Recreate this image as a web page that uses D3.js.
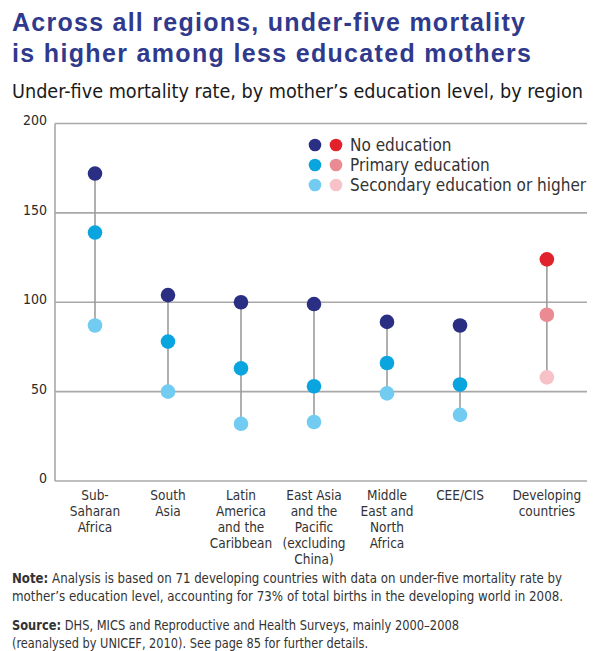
<!DOCTYPE html>
<html>
<head>
<meta charset="utf-8">
<script src="https://cdn.jsdelivr.net/npm/d3@7"></script>
<style>
  html, body { margin: 0; padding: 0; background: #fff; }
  svg { display: block; }
  .narrow { font-family: "Liberation Sans Narrow", "Arial Narrow", "DejaVu Sans Condensed", "Roboto Condensed", sans-serif; }
</style>
</head>
<body>
<svg id="chart" width="601" height="651"></svg>
<script>
// Under-five mortality rate (deaths per 1,000 live births) by mother's education level
const regions = [
  ["Sub-", "Saharan", "Africa"],
  ["South", "Asia"],
  ["Latin", "America", "and the", "Caribbean"],
  ["East Asia", "and the", "Pacific", "(excluding", "China)"],
  ["Middle", "East and", "North", "Africa"],
  ["CEE/CIS"]
];
const aggregate = ["Developing", "countries"];

const noEducation        = [172, 104, 100, 99, 89, 87];
const primaryEducation   = [139, 78, 63, 53, 66, 54];
const secondaryEducation = [87, 50, 32, 33, 49, 37];

const aggregateNoEducation = 124;
const aggregatePrimary = 93;
const aggregateSecondary = 58;

const yTicks = [0, 50, 100, 150, 200];
const legendLabels = ["No education", "Primary education", "Secondary education or higher"];

const blues = ["#2b2f84", "#0aa5de", "#72ccf1"];
const reds  = ["#e2222b", "#ea8a93", "#f6c2c7"];

const svg = d3.select("#chart");

// Headings
const title = svg.append("g")
  .attr("font-family", "'Liberation Sans', Arial, Helvetica, sans-serif")
  .attr("font-weight", "bold")
  .attr("font-size", 25)
  .attr("fill", "#303a8c");
title.append("text").attr("x", 12).attr("y", 31)
  .attr("textLength", 513).attr("lengthAdjust", "spacing")
  .text("Across all regions, under-five mortality");
title.append("text").attr("x", 12).attr("y", 62)
  .attr("textLength", 519).attr("lengthAdjust", "spacing")
  .text("is higher among less educated mothers");

svg.append("text").attr("class", "narrow")
  .attr("x", 12).attr("y", 98)
  .attr("font-size", 20).attr("fill", "#1a1a1a")
  .attr("textLength", 571).attr("lengthAdjust", "spacingAndGlyphs")
  .text("Under-five mortality rate, by mother\u2019s education level, by region");

// Scales
const plotLeft = 55, plotRight = 587;
const y = d3.scaleLinear().domain([0, 200]).range([481, 123.5]);
const x = d3.scalePoint()
  .domain(d3.range(regions.length))
  .range([95, 460]);
const aggregateX = x(regions.length - 1) + x.step() * 1.19;

// Grid and axis
const grid = svg.append("g");
grid.selectAll("line.grid")
  .data(yTicks)
  .join("line")
  .attr("class", "grid")
  .attr("x1", plotLeft).attr("x2", plotRight)
  .attr("y1", d => y(d)).attr("y2", d => y(d))
  .attr("stroke", "#a8a8a8").attr("stroke-width", 1.6);
grid.append("line")
  .attr("x1", plotLeft).attr("x2", plotLeft)
  .attr("y1", y(200)).attr("y2", y(0))
  .attr("stroke", "#a8a8a8").attr("stroke-width", 1.6);

const yAxis = d3.axisLeft(y).tickValues(yTicks).tickSize(0).tickPadding(8);
const yg = svg.append("g")
  .attr("transform", `translate(${plotLeft},0)`)
  .call(yAxis);
yg.select(".domain").remove();
yg.selectAll("text")
  .attr("class", "narrow")
  .attr("font-size", 14)
  .attr("fill", "#2a2a2a")
  .attr("dy", "0.1em");

// Region dumbbells
const rows = regions.map((r, i) => ({
  cx: x(i),
  vals: [noEducation[i], primaryEducation[i], secondaryEducation[i]],
  colors: blues
}));
rows.push({
  cx: aggregateX,
  vals: [aggregateNoEducation, aggregatePrimary, aggregateSecondary],
  colors: reds
});

const groups = svg.append("g").selectAll("g")
  .data(rows)
  .join("g");

groups.append("line")
  .attr("x1", d => d.cx).attr("x2", d => d.cx)
  .attr("y1", d => y(d3.max(d.vals))).attr("y2", d => y(d3.min(d.vals)))
  .attr("stroke", "#9c9c9c").attr("stroke-width", 1.6);

groups.selectAll("circle")
  .data(d => d.vals.map((v, k) => ({ cx: d.cx, v, color: d.colors[k] })))
  .join("circle")
  .attr("cx", d => d.cx)
  .attr("cy", d => y(d.v))
  .attr("r", 7.3)
  .attr("fill", d => d.color);

// Category labels
const labelData = regions.map((lines, i) => ({ cx: x(i), lines }));
labelData.push({ cx: aggregateX, lines: aggregate });
const labels = svg.append("g").attr("class", "narrow")
  .attr("font-size", 13.5).attr("fill", "#333").attr("text-anchor", "middle");
labels.selectAll("text")
  .data(labelData)
  .join("text")
  .attr("x", d => d.cx)
  .attr("y", 500)
  .selectAll("tspan")
  .data(d => d.lines.map(t => ({ t, cx: d.cx })))
  .join("tspan")
  .attr("x", d => d.cx)
  .attr("dy", (d, k) => k === 0 ? 0 : 16)
  .text(d => d.t);

// Legend
const legend = svg.append("g").attr("transform", "translate(315,145)");
const legendRows = legend.selectAll("g")
  .data(legendLabels)
  .join("g")
  .attr("transform", (d, i) => `translate(0,${i * 20})`);
legendRows.append("circle").attr("cx", 0).attr("cy", 0).attr("r", 6.3)
  .attr("fill", (d, i) => blues[i]);
legendRows.append("circle").attr("cx", 21).attr("cy", 0).attr("r", 6.3)
  .attr("fill", (d, i) => reds[i]);
legendRows.append("text")
  .attr("class", "narrow")
  .attr("x", 35).attr("y", 0).attr("dy", "0.36em")
  .attr("font-size", 17).attr("fill", "#333")
  .text(d => d);

// Notes
const notes = svg.append("g").attr("class", "narrow")
  .attr("font-size", 14).attr("fill", "#333");
const n1 = notes.append("text").attr("x", 12).attr("y", 583)
  .attr("textLength", 550).attr("lengthAdjust", "spacingAndGlyphs");
n1.append("tspan").attr("font-weight", "bold").text("Note:");
n1.append("tspan").text(" Analysis is based on 71 developing countries with data on under-five mortality rate by");
notes.append("text").attr("x", 12).attr("y", 601)
  .attr("textLength", 551).attr("lengthAdjust", "spacingAndGlyphs")
  .text("mother\u2019s education level, accounting for 73% of total births in the developing world in 2008.");
const s1 = notes.append("text").attr("x", 12).attr("y", 630)
  .attr("textLength", 447).attr("lengthAdjust", "spacingAndGlyphs");
s1.append("tspan").attr("font-weight", "bold").text("Source:");
s1.append("tspan").text(" DHS, MICS and Reproductive and Health Surveys, mainly 2000\u20132008");
notes.append("text").attr("x", 12).attr("y", 648)
  .attr("textLength", 356).attr("lengthAdjust", "spacingAndGlyphs")
  .text("(reanalysed by UNICEF, 2010). See page 85 for further details.");
</script>
</body>
</html>
